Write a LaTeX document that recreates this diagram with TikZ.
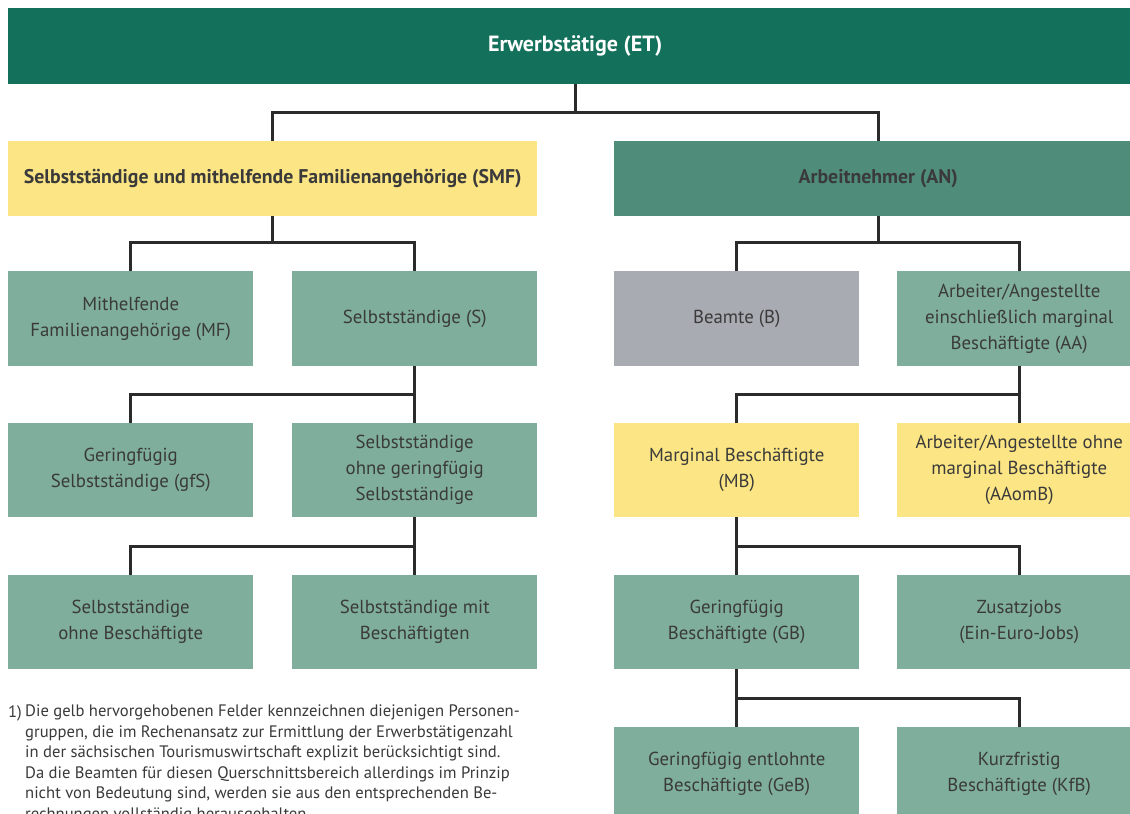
\documentclass[tikz,border=0pt]{standalone}
\usepackage{fontspec}
\setmainfont{PT Sans}
\usetikzlibrary{calc}
\definecolor{etgreen}{HTML}{13705A}
\definecolor{angreen}{HTML}{4F8D7A}
\definecolor{lightgreen}{HTML}{7FAE9C}
\definecolor{greybox}{HTML}{A9ABB2}
\definecolor{yellowbox}{HTML}{FBE584}
\definecolor{txt}{HTML}{3A3A3A}
\definecolor{linec}{HTML}{2B2B2B}
\tikzset{
  box/.style={anchor=north west, inner sep=0pt, align=center, text=txt,
    font=\fontsize{18.8}{26}\selectfont, minimum height=95pt},
  narrow/.style={box, minimum width=245pt},
  gbox/.style={fill=lightgreen},
  ybox/.style={fill=yellowbox},
  conn/.style={draw=linec, line width=3pt},
  fnote/.style={anchor=north west, inner sep=0pt, text=txt, align=left, font=\fontsize{16.6}{20.5}\selectfont},
}
\begin{document}
\begin{tikzpicture}[x=1pt,y=-1pt]
\useasboundingbox (0,0) rectangle (1130,814);
\clip (0,0) rectangle (1130,814);
\fill[white] (0,0) rectangle (1130,814);
% top
\node[box, fill=etgreen, minimum width=1134pt, minimum height=76pt, text=white,
  font=\fontsize{22}{24}\selectfont\bfseries] (et) at (8,8) {Erwerbstätige (ET)};
\node[box, ybox, minimum width=529pt, minimum height=75pt,
  font=\fontsize{19.8}{22}\selectfont\bfseries] (smf) at (8,141) {Selbstständige und mithelfende Familienangehörige (SMF)};
\node[box, fill=angreen, minimum width=528pt, minimum height=75pt,
  font=\fontsize{19.8}{22}\selectfont\bfseries] (an) at (614,141) {Arbeitnehmer (AN)};
% row 1
\node[narrow, gbox] (mf) at (8,271) {Mithelfende\\Familienangehörige (MF)};
\node[narrow, gbox] (s) at (292,271) {Selbstständige (S)};
\node[narrow, fill=greybox] (b) at (614,271) {Beamte (B)};
\node[box, gbox, minimum width=244pt] (aa) at (897,271) {Arbeiter/Angestellte\\einschließlich marginal\\Beschäftigte (AA)};
% row 2
\node[narrow, gbox, minimum height=94pt] (gfs) at (8,423) {Geringfügig\\Selbstständige (gfS)};
\node[narrow, gbox, minimum height=94pt] (sog) at (292,423) {Selbstständige\\ohne geringfügig\\Selbstständige};
\node[narrow, ybox, minimum height=94pt] (mb) at (614,423) {Marginal Beschäftigte\\(MB)};
\node[box, ybox, minimum width=244pt, minimum height=94pt] (aaomb) at (897,423) {Arbeiter/Angestellte ohne\\marginal Beschäftigte\\(AAomB)};
% row 3
\node[narrow, gbox, minimum height=94pt] (sob) at (8,575) {Selbstständige\\ohne Beschäftigte};
\node[narrow, gbox, minimum height=94pt] (smb) at (292,575) {Selbstständige mit\\Beschäftigten};
\node[narrow, gbox, minimum height=94pt] (gb) at (614,575) {Geringfügig\\Beschäftigte (GB)};
\node[box, gbox, minimum width=244pt, minimum height=94pt] (zus) at (897,575) {Zusatzjobs\\(Ein-Euro-Jobs)};
% row 4
\node[narrow, gbox, minimum height=94pt] (geb) at (614,727) {Geringfügig entlohnte\\Beschäftigte (GeB)};
\node[box, gbox, minimum width=244pt, minimum height=94pt] (kfb) at (897,727) {Kurzfristig\\Beschäftigte (KfB)};
% connectors
\coordinate (j1) at ($(smf.north)!0.5!(an.north) + (0,-29)$);
\draw[conn] (et.south -| j1) -- (j1);
\draw[conn] (smf.north) |- (j1) -| (an.north);
\coordinate (j2) at ($(smf.south) + (0,26)$);
\draw[conn] (smf.south) -- (j2);
\draw[conn] (mf.north) |- (j2) -| (s.north);
\coordinate (j3) at ($(an.south) + (0,26)$);
\draw[conn] (an.south) -- (j3);
\draw[conn] (b.north) |- (j3) -| (aa.north);
\coordinate (j4) at ($(s.south)!0.5!(sog.north)$);
\draw[conn] (s.south) -- (sog.north);
\draw[conn] (gfs.north) |- (j4);
\coordinate (j5) at ($(aa.south)!0.5!(aaomb.north)$);
\draw[conn] (aa.south) -- (aaomb.north);
\draw[conn] (mb.north) |- (j5);
\coordinate (j6) at ($(sog.south)!0.5!(smb.north)$);
\draw[conn] (sog.south) -- (smb.north);
\draw[conn] (sob.north) |- (j6);
\coordinate (j7) at ($(mb.south)!0.5!(gb.north)$);
\draw[conn] (mb.south) -- (gb.north);
\draw[conn] (zus.north) |- (j7);
\coordinate (j8) at ($(gb.south)!0.5!(geb.north)$);
\draw[conn] (gb.south) -- (geb.north);
\draw[conn] (kfb.north) |- (j8);
% footnote
\node[fnote] (fnm) at (8,705) {1)};
\node[fnote] (fn) at (25,705) {Die gelb hervorgehobenen Felder kennzeichnen diejenigen Personen-\\gruppen, die im Rechenansatz zur Ermittlung der Erwerbstätigenzahl\\in der sächsischen Tourismuswirtschaft explizit berücksichtigt sind.\\Da die Beamten für diesen Querschnittsbereich allerdings im Prinzip\\nicht von Bedeutung sind, werden sie aus den entsprechenden Be-\\rechnungen vollständig herausgehalten.};
\end{tikzpicture}
\end{document}
